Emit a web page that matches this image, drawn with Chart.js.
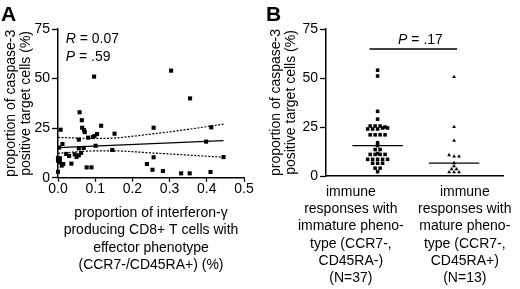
<!DOCTYPE html>
<html>
<head>
<meta charset="utf-8">
<script src="https://cdn.jsdelivr.net/npm/chart.js@4.4.1/dist/chart.umd.min.js"></script>
<style>
  html, body { margin: 0; padding: 0; background: #fff; }
  #wrap { position: relative; width: 520px; height: 289px; overflow: hidden; }
  canvas { position: absolute; top: 0; }
  #scatter { left: 0; }
  #groups { left: 260px; }
</style>
</head>
<body>
<div id="wrap">
  <canvas id="scatter" width="260" height="289"></canvas>
  <canvas id="groups" width="260" height="289"></canvas>
</div>
<script>
// --- panel A: effector phenotype fraction vs caspase-3 positive targets
const effectorX = [0.097, 0.304, 0.355, 0.257, 0.412, 0.398, 0.445, 0.257, 0.146, 0.152,
  0.116, 0.058, 0.064, 0.065, 0.070, 0.072, 0.081, 0.056, 0.098, 0.105,
  0.094, 0.007, 0.012, 0.003, 0.056, 0.069, 0.101, 0.022, 0.050, 0.056,
  0.045, 0.000, 0.005, 0.000, 0.005, 0.014, 0.010, 0.036, 0.000, 0.077,
  0.090, 0.239, 0.254, 0.282, 0.331, 0.354, 0.410, 0.062, 0.030];
const caspaseA = [51, 54, 40, 25.2, 25.4, 18.2, 10.4, 10.3, 14, 22.2,
  26.2, 33, 29, 25.2, 24, 23, 20.2, 19.2, 21, 22,
  20.5, 24.2, 17, 15.2, 14.8, 15, 16.1, 12, 10.5, 11.3,
  11.8, 10, 9.8, 8.6, 7.9, 6.9, 6.1, 7.1, 3, 5.2,
  5.2, 6.9, 4, 3.4, 2.2, 2.2, 2.9, 12.5, 11];
const fitX = [0, 0.445];
const fitY = [15.2, 18.7];
const bandX = [0, 0.1, 0.15, 0.25, 0.35, 0.445];
const bandUpper = [20.3, 19.8, 20, 22, 24.4, 27];
const bandLower = [12.3, 13.5, 13.5, 12.5, 11.4, 10.3];
const xTicksA = [0, 0.1, 0.2, 0.3, 0.4, 0.5];
const yTicks = [0, 25, 50, 75];

const yTitle = ["proportion of caspase-3", "positive target cells (%)"];
const xTitleA = ["proportion of interferon-\u03b3", "producing CD8+ T cells with",
  "effector phenotype", "(CCR7-/CD45RA+) (%)"];

// --- panel B: immature vs mature phenotype responses
const immature = [54, 51, 33, 29, 25.5, 25.5, 25.5, 25, 24, 24, 24, 24.5, 24.5,
  21, 21, 21, 21, 17, 15.5, 13.5, 13.5, 11, 11, 11, 11, 11.5,
  8.5, 8.5, 8.5, 8.5, 8.5, 6.5, 6.5, 6.5, 4, 4, 2.2];
const mature = [50.5, 25, 18, 10.7, 10, 10, 6.6, 5, 3.5, 3.5, 2, 2, 2];
const groupPos = [1, 2];
const labelPos = [0.65, 2.14];
const groupLabels = [
  ["immune", "responses with", "immature pheno-", "type (CCR7-,", "CD45RA-)", "(N=37)"],
  ["immune", "responses with", "mature pheno-", "type (CCR7-,", "CD45RA+)", "(N=13)"]
];
const pBar = { from: 0.893, to: 2.04, y: 64.8 };

Chart.defaults.font.family = "'Liberation Sans', Arial, sans-serif";
Chart.defaults.color = "#000";

function swarm(values, center, bin, step) {
  const bins = new Map();
  values.forEach(v => {
    const k = Math.round(v / bin);
    if (!bins.has(k)) bins.set(k, []);
    bins.get(k).push(v);
  });
  const pts = [];
  bins.forEach(list => list.forEach((v, i) => {
    pts.push({ x: center + (i - (list.length - 1) / 2) * step, y: v });
  }));
  return pts;
}

function median(values) {
  const s = [...values].sort((a, b) => a - b);
  const m = Math.floor(s.length / 2);
  return s.length % 2 ? s[m] : (s[m - 1] + s[m]) / 2;
}

const notesPlugin = {
  id: "notes",
  afterDraw(chart, args, opts) {
    const ctx = chart.ctx;
    ctx.save();
    ctx.fillStyle = "#000";
    ctx.textBaseline = "alphabetic";
    (opts.items || []).forEach(item => {
      let total = 0;
      item.parts.forEach(([txt, font]) => { ctx.font = font; total += ctx.measureText(txt).width; });
      let x = item.center ? item.x - total / 2 : item.x;
      item.parts.forEach(([txt, font]) => {
        ctx.font = font;
        ctx.fillText(txt, x, item.y);
        x += ctx.measureText(txt).width;
      });
    });
    ctx.restore();
  }
};

const FAM = "'Liberation Sans', Arial, sans-serif";
const reg = "14px " + FAM;
const ital = "italic 14px " + FAM;
const bold = "bold 21px " + FAM;

function yAxis(width, titlePad) {
  return {
    min: 0, max: 75,
    afterBuildTicks: s => { s.ticks = yTicks.map(v => ({ value: v })); },
    ticks: { color: "#000", font: { size: 14, lineHeight: 1 }, padding: 2 },
    grid: { display: true, drawOnChartArea: false, tickLength: 6, color: "#000", tickWidth: 1.3 },
    border: { color: "#000", width: 1.5 },
    title: { display: true, text: yTitle, color: "#000", font: { size: 14, lineHeight: 1.07 }, padding: { top: titlePad, bottom: 0 } },
    afterFit: s => { s.width = width; }
  };
}

// panel A
new Chart(document.getElementById("scatter"), {
  type: "scatter",
  data: {
    datasets: [
      {
        data: effectorX.map((x, i) => ({ x, y: caspaseA[i] })),
        pointStyle: "rect", pointRadius: 2.9, backgroundColor: "#000", borderWidth: 0, clip: false
      },
      {
        type: "line", data: fitX.map((x, i) => ({ x, y: fitY[i] })),
        borderColor: "#000", borderWidth: 1.3, pointRadius: 0
      },
      {
        type: "line", data: bandX.map((x, i) => ({ x, y: bandUpper[i] })),
        borderColor: "#000", borderWidth: 1.2, borderDash: [2, 1.5], pointRadius: 0, cubicInterpolationMode: "monotone"
      },
      {
        type: "line", data: bandX.map((x, i) => ({ x, y: bandLower[i] })),
        borderColor: "#000", borderWidth: 1.2, borderDash: [2, 1.5], pointRadius: 0, cubicInterpolationMode: "monotone"
      }
    ]
  },
  options: {
    responsive: false,
    animation: false,
    layout: { padding: { top: 29, right: 16, left: 0, bottom: 0 } },
    plugins: {
      legend: { display: false },
      tooltip: { enabled: false },
      notes: {
        items: [
          { x: 1, y: 21, parts: [["A", bold]] },
          { x: 65.7, y: 43, parts: [["R", ital], [" = 0.07", reg]] },
          { x: 65.7, y: 61, parts: [["P", ital], [" = .59", reg]] }
        ]
      }
    },
    scales: {
      x: {
        type: "linear", min: 0, max: 0.5,
        afterBuildTicks: s => { s.ticks = xTicksA.map(v => ({ value: v })); },
        ticks: { callback: v => v.toFixed(1), color: "#000", font: { size: 14, lineHeight: 1 }, padding: 0, maxRotation: 0, autoSkip: false },
        grid: { display: true, drawOnChartArea: false, tickLength: 4, color: "#000", tickWidth: 1.3 },
        border: { color: "#000", width: 1.5 },
        title: { display: true, text: xTitleA, color: "#000", font: { size: 14, lineHeight: 1.25 }, padding: { top: 0, bottom: 15 } },
        afterFit: s => { s.height = 111.3; }
      },
      y: yAxis(58, 3.5)
    }
  },
  plugins: [notesPlugin]
});

// panel B
const immMed = median(immature);
const matMed = median(mature);
new Chart(document.getElementById("groups"), {
  type: "scatter",
  data: {
    datasets: [
      {
        data: swarm(immature, groupPos[0], 1.5, 0.065),
        pointStyle: "rect", pointRadius: 2.5, backgroundColor: "#000", borderWidth: 0, clip: false
      },
      {
        data: swarm(mature, groupPos[1], 1.5, 0.065),
        pointStyle: "triangle", pointRadius: 2.2, backgroundColor: "#000", borderWidth: 0, clip: false
      },
      {
        type: "line", data: [{ x: groupPos[0] - 0.33, y: immMed }, { x: groupPos[0] + 0.33, y: immMed }],
        borderColor: "#000", borderWidth: 1.3, pointRadius: 0
      },
      {
        type: "line", data: [{ x: groupPos[1] - 0.33, y: matMed }, { x: groupPos[1] + 0.33, y: matMed }],
        borderColor: "#000", borderWidth: 1.3, pointRadius: 0
      },
      {
        type: "line", data: [{ x: pBar.from, y: pBar.y }, { x: pBar.to, y: pBar.y }],
        borderColor: "#000", borderWidth: 1.3, pointRadius: 0
      }
    ]
  },
  options: {
    responsive: false,
    animation: false,
    layout: { padding: { top: 29, right: 7, left: 0, bottom: 0 } },
    plugins: {
      legend: { display: false },
      tooltip: { enabled: false },
      notes: {
        items: [
          { x: 6, y: 21, parts: [["B", bold]] },
          { x: 160.5, y: 44.3, center: true, parts: [["P", ital], [" = .17", reg]] }
        ]
      }
    },
    scales: {
      x: {
        type: "linear", min: 0.325, max: 2.651,
        afterBuildTicks: s => { s.ticks = labelPos.map(v => ({ value: v })); },
        ticks: {
          callback: (v, i) => groupLabels[i],
          color: "#000", font: { size: 14, lineHeight: 1.24 }, padding: 7, maxRotation: 0, autoSkip: false
        },
        grid: { display: false, drawTicks: false, tickLength: 0 },
        border: { display: true, color: "#000", width: 1.5 },
        afterFit: s => { s.height = 113; }
      },
      y: yAxis(66, 8.5)
    }
  },
  plugins: [notesPlugin]
});
</script>
</body>
</html>
